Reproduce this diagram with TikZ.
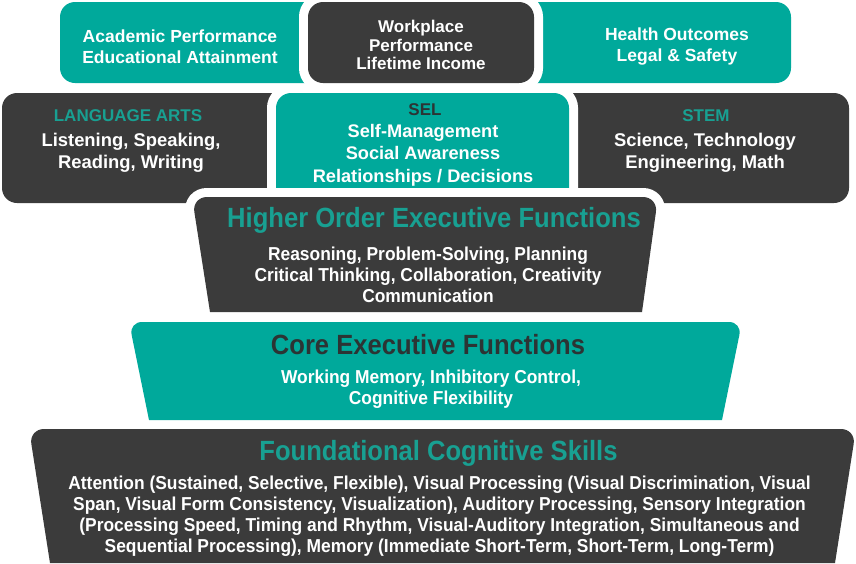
\documentclass[tikz,border=0pt]{standalone}
\usepackage{fontspec}
\setmainfont{Liberation Sans}
\newfontfamily\titlefont[FakeStretch=0.92]{Liberation Sans}
\newfontfamily\bodyfont[FakeStretch=0.93]{Liberation Sans}
\definecolor{teal1}{RGB}{0,169,155}
\definecolor{dark1}{RGB}{59,59,59}
\definecolor{tealtxt}{RGB}{24,160,146}
\definecolor{darktxt}{RGB}{44,52,52}
\begin{document}
\begin{tikzpicture}[x=1pt,y=-1pt,
  tealbox/.style={fill=teal1},
  darkbox/.style={fill=dark1},
  cutout/.style={preaction={draw=white,line width=18pt}},
  toptxt/.style={text=white,font=\fontsize{17.5}{21}\selectfont\bfseries,align=center,inner sep=0pt},
  worktxt/.style={text=white,font=\fontsize{17}{18.5}\selectfont\bfseries,align=center,inner sep=0pt},
  rowtxt/.style={text=white,font=\fontsize{18.4}{22}\selectfont\bfseries,align=center,inner sep=0pt},
  headtxt/.style={font=\fontsize{17}{20}\selectfont\bfseries,align=center,inner sep=0pt},
  titletxt/.style={font=\titlefont\fontsize{27.8}{32}\selectfont\bfseries,align=center,inner sep=0pt},
  bodytxt/.style={text=white,font=\bodyfont\fontsize{18.7}{21}\selectfont\bfseries,align=center,inner sep=0pt}
]
\useasboundingbox (0,0) rectangle (856,563);
% top row
\path[tealbox, rounded corners=15] (60,2) rectangle (320,83);
\path[tealbox, rounded corners=15] (520,2) rectangle (791,83);
\path[darkbox, cutout, rounded corners=15] (308,2) rectangle (534,83);
% second row
\path[darkbox, rounded corners=15] (2,93) rectangle (300,203);
\path[darkbox, rounded corners=15] (550,93) rectangle (849,203);
\path[tealbox, cutout, rounded corners=15] (276,93) rectangle (569,215);
% higher order
\path[darkbox, cutout] (210,312) [rounded corners=15] -- (192,197) -- (658,197) [sharp corners] -- (642,312) -- cycle;
% core
\path[tealbox] (149,420) [rounded corners=13] -- (129,322) -- (742,322) [sharp corners] -- (722,420) -- cycle;
% foundational
\path[darkbox] (50,563) [rounded corners=15] -- (29,429) -- (856,429) [sharp corners] -- (835,563) -- cycle;

% texts
\node[toptxt] (acad) at (180,46.5) {Academic Performance\\Educational Attainment};
\node[worktxt] (work) at (421,45) {Workplace\\Performance\\Lifetime Income};
\node[toptxt] (health) at (677,46.5) {Health Outcomes\\Legal \& Safety};

\node[headtxt, text=tealtxt] (lahead) at (128,116) {LANGUAGE ARTS};
\node[rowtxt] (labody) at (131,153) {Listening, Speaking,\\Reading, Writing};
\node[headtxt, text=darktxt] (selhead) at (425,110) {SEL};
\node[rowtxt, font=\fontsize{18.2}{22.5}\selectfont\bfseries] (selbody) at (423,155) {Self-Management\\Social Awareness\\Relationships / Decisions};
\node[headtxt, text=tealtxt] (stemhead) at (706,116) {STEM};
\node[rowtxt] (stembody) at (705,153) {Science, Technology\\Engineering, Math};

\node[titletxt, text=tealtxt] (hotitle) at (434,220) {Higher Order Executive Functions};
\node[bodytxt] (hobody) at (428,275) {Reasoning, Problem-Solving, Planning\\Critical Thinking, Collaboration, Creativity\\Communication};

\node[titletxt, text=darktxt] (coretitle) at (428,345) {Core Executive Functions};
\node[bodytxt] (corebody) at (431,389) {Working Memory, Inhibitory Control,\\Cognitive Flexibility};

\node[titletxt, text=tealtxt] (fctitle) at (438.5,453) {Foundational Cognitive Skills};
\node[bodytxt] (fcbody) at (439.5,516) {Attention (Sustained, Selective, Flexible), Visual Processing (Visual Discrimination, Visual\\Span, Visual Form Consistency, Visualization), Auditory Processing, Sensory Integration\\(Processing Speed, Timing and Rhythm, Visual-Auditory Integration, Simultaneous and\\Sequential Processing), Memory (Immediate Short-Term, Short-Term, Long-Term)};
\end{tikzpicture}
\end{document}
